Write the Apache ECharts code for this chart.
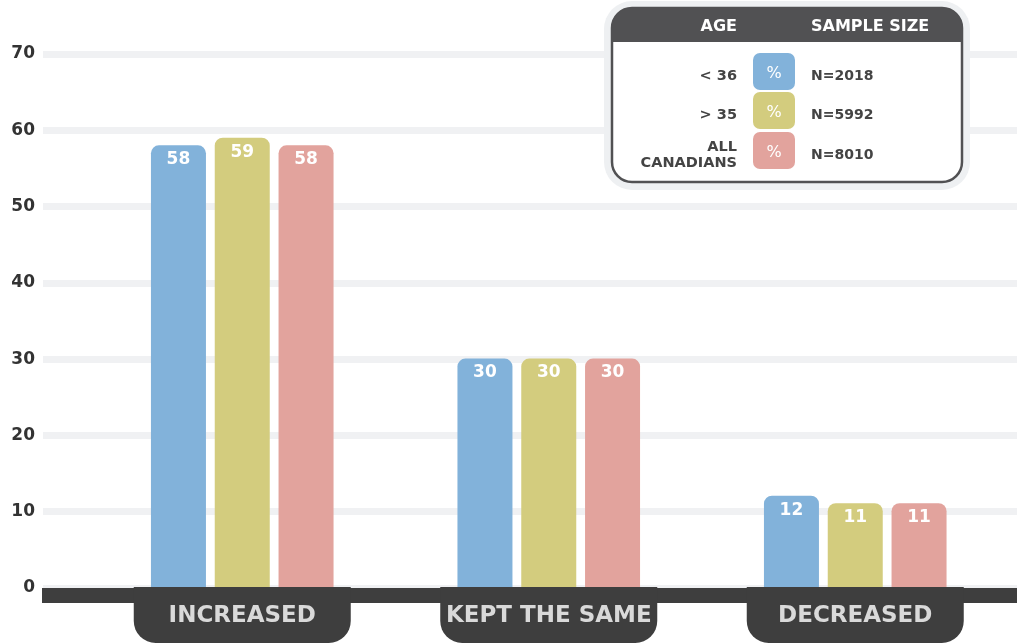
<!DOCTYPE html>
<html>
<head>
<meta charset="utf-8">
<script src="https://cdn.jsdelivr.net/npm/echarts@6/dist/echarts.min.js"></script>
<style>
  html, body { margin: 0; padding: 0; background: #fff; }
  #chart { width: 1017px; height: 643px; }
</style>
</head>
<body>
<div id="chart"></div>
<script>
  // Data
  const categories = ['INCREASED', 'KEPT THE SAME', 'DECREASED'];
  const groups = ['< 36', '> 35', 'ALL\nCANADIANS'];
  const sampleSizes = ['N=2018', 'N=5992', 'N=8010'];
  const valuesUnder36 = [58, 30, 12];
  const valuesOver35 = [59, 30, 11];
  const valuesAll = [58, 30, 11];
  const yTicks = [0, 10, 20, 30, 40, 50, 60, 70];

  const COLORS = ['#82b2da', '#d3cc7e', '#e2a39d'];
  const DARK = '#3e3e3e';
  const HEAD = '#515153';
  const GRID = '#f0f1f3';
  const FONT = '"DejaVu Sans", sans-serif';

  const seriesData = [valuesUnder36, valuesOver35, valuesAll];

  const chart = echarts.init(document.getElementById('chart'), null, { renderer: 'canvas' });

  // legend panel (age / swatch / sample size)
  const legend = [
    { type: 'rect', shape: { x: 604, y: 1, width: 366, height: 189, r: 28 }, style: { fill: '#eef0f2' }, z: 10 },
    { type: 'rect', shape: { x: 612, y: 8, width: 350, height: 174, r: 20 }, style: { fill: '#fff', stroke: HEAD, lineWidth: 2.5 }, z: 11 },
    { type: 'rect', shape: { x: 612, y: 8, width: 350, height: 34, r: [20, 20, 0, 0] }, style: { fill: HEAD }, z: 12 },
    { type: 'text', x: 737, y: 27, style: { text: 'AGE', fill: '#fff', font: 'bold 16px ' + FONT, align: 'right', verticalAlign: 'middle' }, z: 13 },
    { type: 'text', x: 811, y: 27, style: { text: 'SAMPLE SIZE', fill: '#fff', font: 'bold 16px ' + FONT, align: 'left', verticalAlign: 'middle' }, z: 13 },
  ];
  const rowY = [71, 110, 150];
  groups.forEach((g, i) => {
    legend.push({ type: 'text', x: 737, y: rowY[i] + 5, style: { text: g, fill: '#444', font: 'bold 14.5px ' + FONT, align: 'right', verticalAlign: 'middle', lineHeight: 16 }, z: 13 });
    legend.push({ type: 'rect', shape: { x: 753, y: rowY[i] - 18, width: 42, height: 37, r: 7 }, style: { fill: COLORS[i] }, z: 13 });
    legend.push({ type: 'text', x: 774, y: rowY[i] + 3, style: { text: '%', fill: '#fff', font: '16px ' + FONT, align: 'center', verticalAlign: 'middle' }, z: 14 });
    legend.push({ type: 'text', x: 811, y: rowY[i] + 5, style: { text: sampleSizes[i], fill: '#444', font: 'bold 14px ' + FONT, align: 'left', verticalAlign: 'middle' }, z: 13 });
  });
  // dark base band under the bars
  legend.push({ type: 'rect', shape: { x: 42, y: 588, width: 975, height: 15 }, style: { fill: DARK }, z: 1 });

  const option = {
    animation: false,
    backgroundColor: '#fff',
    grid: [
      { left: 43, right: 0, top: 54, bottom: 55 },
      { left: 89, right: 8.5, top: 54, bottom: 55 },
    ],
    xAxis: [
      { gridIndex: 0, type: 'category', data: categories, show: false },
      {
        gridIndex: 1, type: 'category', data: categories,
        axisLine: { show: false }, axisTick: { show: false },
        axisLabel: {
          margin: 0, color: '#d9d9d9', fontFamily: FONT, fontWeight: 'bold', fontSize: 23,
          backgroundColor: DARK, width: 217, height: 56, lineHeight: 58, align: 'center',
          borderRadius: [0, 0, 22, 22], overflow: 'none'
        },
        z: 2,
      },
    ],
    yAxis: [
      {
        gridIndex: 0, type: 'value', min: 0, max: 70, interval: 10,
        axisLine: { show: false }, axisTick: { show: false },
        axisLabel: { margin: 8, color: '#333', fontFamily: FONT, fontWeight: 'bold', fontSize: 17,
          formatter: v => (yTicks.indexOf(v) >= 0 ? String(v) : '') },
        splitLine: { lineStyle: { color: GRID, width: 7 } },
      },
      { gridIndex: 1, type: 'value', min: 0, max: 70, interval: 10, show: false, splitLine: { show: false } },
    ],
    graphic: legend,
    series: seriesData.map((d, i) => ({
      name: groups[i],
      type: 'bar',
      xAxisIndex: 1, yAxisIndex: 1,
      data: d,
      barWidth: 55,
      barGap: '16%',
      itemStyle: { color: COLORS[i], borderRadius: [8, 8, 0, 0] },
      label: { show: true, position: 'insideTop', distance: 6, color: '#fff', fontFamily: FONT, fontWeight: 'bold', fontSize: 17 },
      z: 3,
    })),
  };

  chart.setOption(option);
</script>
</body>
</html>
